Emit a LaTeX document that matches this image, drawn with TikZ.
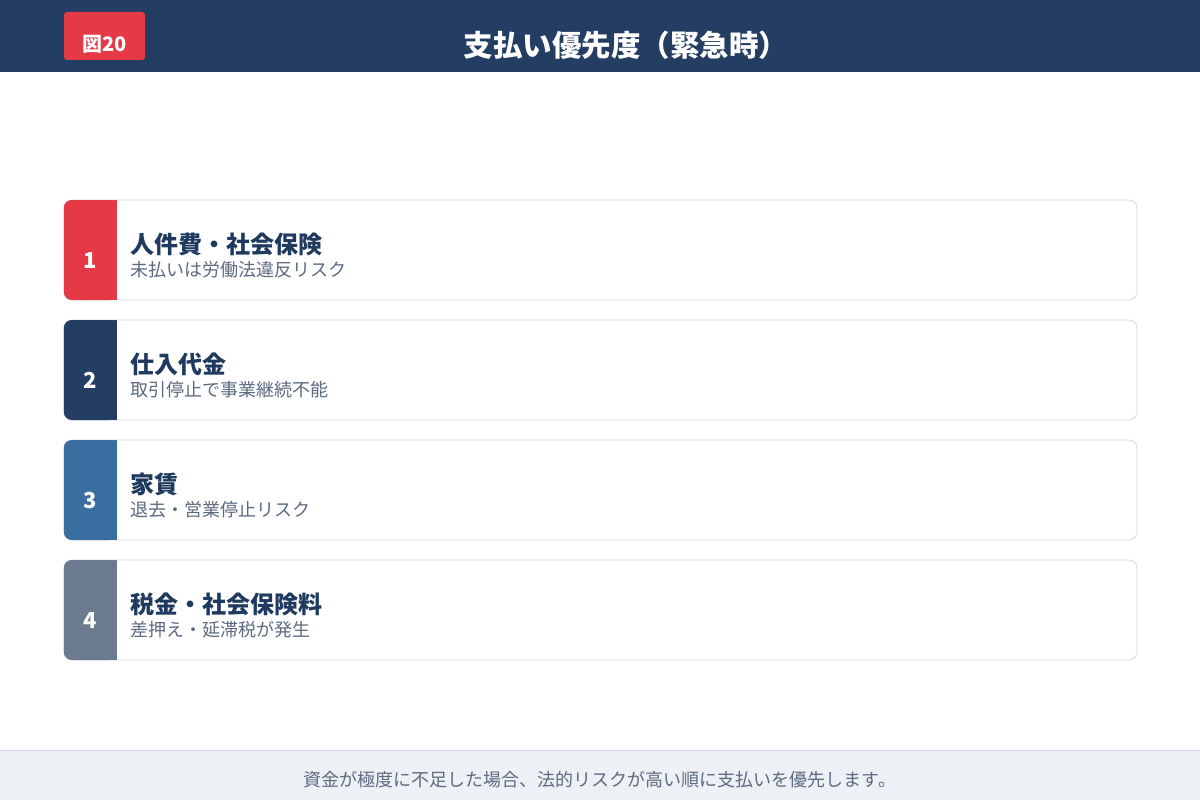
\documentclass[tikz,border=0pt]{standalone}
\usepackage{fontspec}
\setmainfont{Noto Sans CJK JP}
\usetikzlibrary{positioning}
\definecolor{navy}{HTML}{243D63}
\definecolor{alert}{HTML}{E63946}
\definecolor{steel}{HTML}{3A6EA0}
\definecolor{slate}{HTML}{6B7A8F}
\definecolor{inkblue}{HTML}{1F3A5F}
\definecolor{subgray}{HTML}{5C6B80}
\definecolor{edge}{HTML}{D3D8E6}
\definecolor{foot}{HTML}{EDF0F5}
\newcommand{\fsz}[1]{\fontsize{#1pt}{#1pt}\selectfont}
\begin{document}
\begin{tikzpicture}[x=1pt, y=-1pt,
        card/.style = {draw=edge, line width=0.8pt, fill=white, rounded corners=8pt, minimum width=1073pt, minimum height=100pt, inner sep=0pt},
        block/.style = {rounded corners=8pt, minimum width=53pt, minimum height=100pt, inner sep=0pt, anchor=west},
        num/.style = {text=white, font=\fsz{22}\bfseries, anchor=base, inner sep=0pt},
        ttl/.style = {text=inkblue, font=\fsz{24}\bfseries, anchor=base west, inner sep=0pt},
        sub/.style = {text=subgray, font=\fsz{18}, anchor=base west, inner sep=0pt}]
    \useasboundingbox (0,0) rectangle (1200,800);
    \fill[white] (0,0) rectangle (1200,800);
    % header
    \fill[navy] (0,0) rectangle (1200,72);
    \node[fill=alert, rounded corners=3pt, minimum width=81pt, minimum height=48pt, inner sep=0pt] (badge) at (104.5,36) {};
    \node[text=white, font=\fsz{20}\bfseries, anchor=base, inner sep=0pt] (fig) at (104.5,52) {図20};
    \node[text=white, font=\fsz{29.5}\bfseries, anchor=base, inner sep=0pt] (title) at (626,57) {支払い優先度（緊急時）};
    % cards
    \node[card] (c1) at (600.5,250) {};
    \node[block, fill=alert] (b1) at (c1.west) {};
    \fill[alert] ([xshift=-12pt]b1.north east) rectangle (b1.south east);
    \node[num] (n1) at ([yshift=-18pt]b1.center) {1};
    \node[ttl] (t1) at ([xshift=13pt, yshift=-3pt]b1.east) {人件費・社会保険};
    \node[sub] (s1) at ([xshift=13pt, yshift=-26pt]b1.east) {未払いは労働法違反リスク};

    \node[card] (c2) at (600.5,370) {};
    \node[block, fill=navy] (b2) at (c2.west) {};
    \fill[navy] ([xshift=-12pt]b2.north east) rectangle (b2.south east);
    \node[num] (n2) at ([yshift=-18pt]b2.center) {2};
    \node[ttl] (t2) at ([xshift=13pt, yshift=-3pt]b2.east) {仕入代金};
    \node[sub] (s2) at ([xshift=13pt, yshift=-26pt]b2.east) {取引停止で事業継続不能};

    \node[card] (c3) at (600.5,490) {};
    \node[block, fill=steel] (b3) at (c3.west) {};
    \fill[steel] ([xshift=-12pt]b3.north east) rectangle (b3.south east);
    \node[num] (n3) at ([yshift=-18pt]b3.center) {3};
    \node[ttl] (t3) at ([xshift=13pt, yshift=-3pt]b3.east) {家賃};
    \node[sub] (s3) at ([xshift=13pt, yshift=-26pt]b3.east) {退去・営業停止リスク};

    \node[card] (c4) at (600.5,610) {};
    \node[block, fill=slate] (b4) at (c4.west) {};
    \fill[slate] ([xshift=-12pt]b4.north east) rectangle (b4.south east);
    \node[num] (n4) at ([yshift=-18pt]b4.center) {4};
    \node[ttl] (t4) at ([xshift=13pt, yshift=-3pt]b4.east) {税金・社会保険料};
    \node[sub] (s4) at ([xshift=13pt, yshift=-26pt]b4.east) {差押え・延滞税が発生};
    % footer
    \fill[foot] (0,750) rectangle (1200,800);
    \draw[edge, line width=1pt] (0,750) -- (1200,750);
    \node[text=subgray, font=\fsz{18}, anchor=base, inner sep=0pt] (note) at (600,786) {資金が極度に不足した場合、法的リスクが高い順に支払いを優先します。};
\end{tikzpicture}
\end{document}
